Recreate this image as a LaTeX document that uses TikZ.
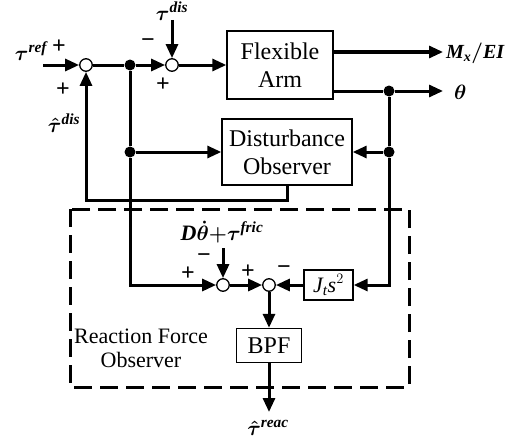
\documentclass[tikz,border=0pt]{standalone}
\usepackage{fontspec}
\setmainfont{Liberation Serif}
\usetikzlibrary{arrows.meta}
\begin{document}
\begin{tikzpicture}[x=1pt,y=-1pt,
 sig/.style={line width=3pt,-{Triangle[length=14pt,width=12pt]}},
 ln/.style={line width=3pt},
 sumc/.style={circle,draw,line width=1.3pt,fill=white,minimum size=12.5pt,inner sep=0pt},
 dotc/.style={circle,fill,minimum size=11pt,inner sep=0pt},
 blk/.style={draw,line width=1.4pt,font=\fontsize{24}{28}\selectfont,align=center,inner sep=0pt},
 lab/.style={font=\fontsize{22}{24}\selectfont\boldmath,inner sep=0pt},
 sgn/.style={font=\fontsize{24}{26}\selectfont\bfseries,inner sep=0pt},
 dashbox/.style={line width=3pt,dash pattern=on 18pt off 8pt}]
\useasboundingbox (0,0) rectangle (505,444);
% dashed box
\draw[dashbox] (70,209) rectangle (409,387);
% blocks
\node[blk,minimum width=106pt,minimum height=68pt] (fa) at (280,65) {Flexible\\Arm};
\node[blk,minimum width=130pt,minimum height=66pt] (do) at (287,152) {Disturbance\\Observer};
\node[blk,minimum width=49pt,minimum height=30pt,font=\fontsize{22}{24}\selectfont] (jt) at (328.5,285) {$\mathit{J_t s}^2$};
\node[blk,minimum width=65pt,minimum height=34pt] (bpf) at (269,345.5) {BPF};
% sums
\node[sumc] (s1) at (86,65) {};
\node[sumc] (s2) at (172,65) {};
\node[sumc] (s3) at (223,285) {};
\node[sumc] (s4) at (269,285) {};
% dots
\node[dotc] (d1) at (130,65) {};
\node[dotc] (d2) at (389,91) {};
\node[dotc] (d3) at (389,152) {};
\node[dotc] (d4) at (130,152) {};
% free ends
\coordinate (tin) at (43,65);
\coordinate (tdin) at (172,20);
\coordinate (mx) at (443,52);
\coordinate (th) at (443,91);
\coordinate (fin) at (223,248);
\coordinate (rout) at (269,412);
% labels
\node[lab] (tref) at (31,51) {$\tau^{\mathit{ref}}$};
\node[lab] (tdis) at (172,11) {$\tau^{\mathit{dis}}$};
\node[lab] (thd) at (64,123) {$\hat{\tau}^{\mathit{dis}}$};
\node[lab,anchor=west,font=\fontsize{20}{22}\selectfont\boldmath] (mxl) at (446,53) {$\mathit{M_x/EI}$};
\node[lab,anchor=west] (thl) at (454,92) {$\theta$};
\node[lab] (fric) at (222,232) {$\mathit{D}\dot{\theta}{+}\tau^{\mathit{fric}}$};
\node[lab] (reac) at (268,428) {$\hat{\tau}^{\mathit{reac}}$};
\node[font=\fontsize{22}{24}\selectfont,align=center,inner sep=0pt] (rfo) at (141,348) {Reaction Force\\Observer};
% signs
\node[sgn] (p1) at (59,47) {+};
\node[sgn] (p2) at (63,90) {+};
\node[sgn] (m1) at (148,43) {−};
\node[sgn] (p3) at (163,85) {+};
\node[sgn] (p4) at (188,274) {+};
\node[sgn] (m2) at (204,258) {−};
\node[sgn] (p5) at (248,272) {+};
\node[sgn] (m3) at (284,270) {−};
% connectors
\draw[sig] (tin) -- (s1);
\draw[ln] (s1) -- (d1);
\draw[sig] (d1) -- (s2);
\draw[sig] (tdin) -- (s2);
\draw[sig] (s2) -- (fa);
\draw[sig] ([yshift=13pt]fa.east) -- (mx);
\draw[ln] ([yshift=-26pt]fa.east) -- (d2);
\draw[sig] (d2) -- (th);
\draw[ln] (d2) -- (d3);
\draw[sig] (d3) -- (do);
\draw[sig] (d3) |- (jt);
\draw[ln] (d1) -- (d4);
\draw[sig] (d4) -- (do);
\draw[sig] (d4) |- (s3);
\draw[sig] (do.south) -- ++(0,15) -| (s1.south);
\draw[sig] (fin) -- (s3);
\draw[sig] (s3) -- (s4);
\draw[sig] (jt) -- (s4);
\draw[sig] (s4) -- (bpf);
\draw[sig] (bpf) -- (rout);
\end{tikzpicture}
\end{document}
